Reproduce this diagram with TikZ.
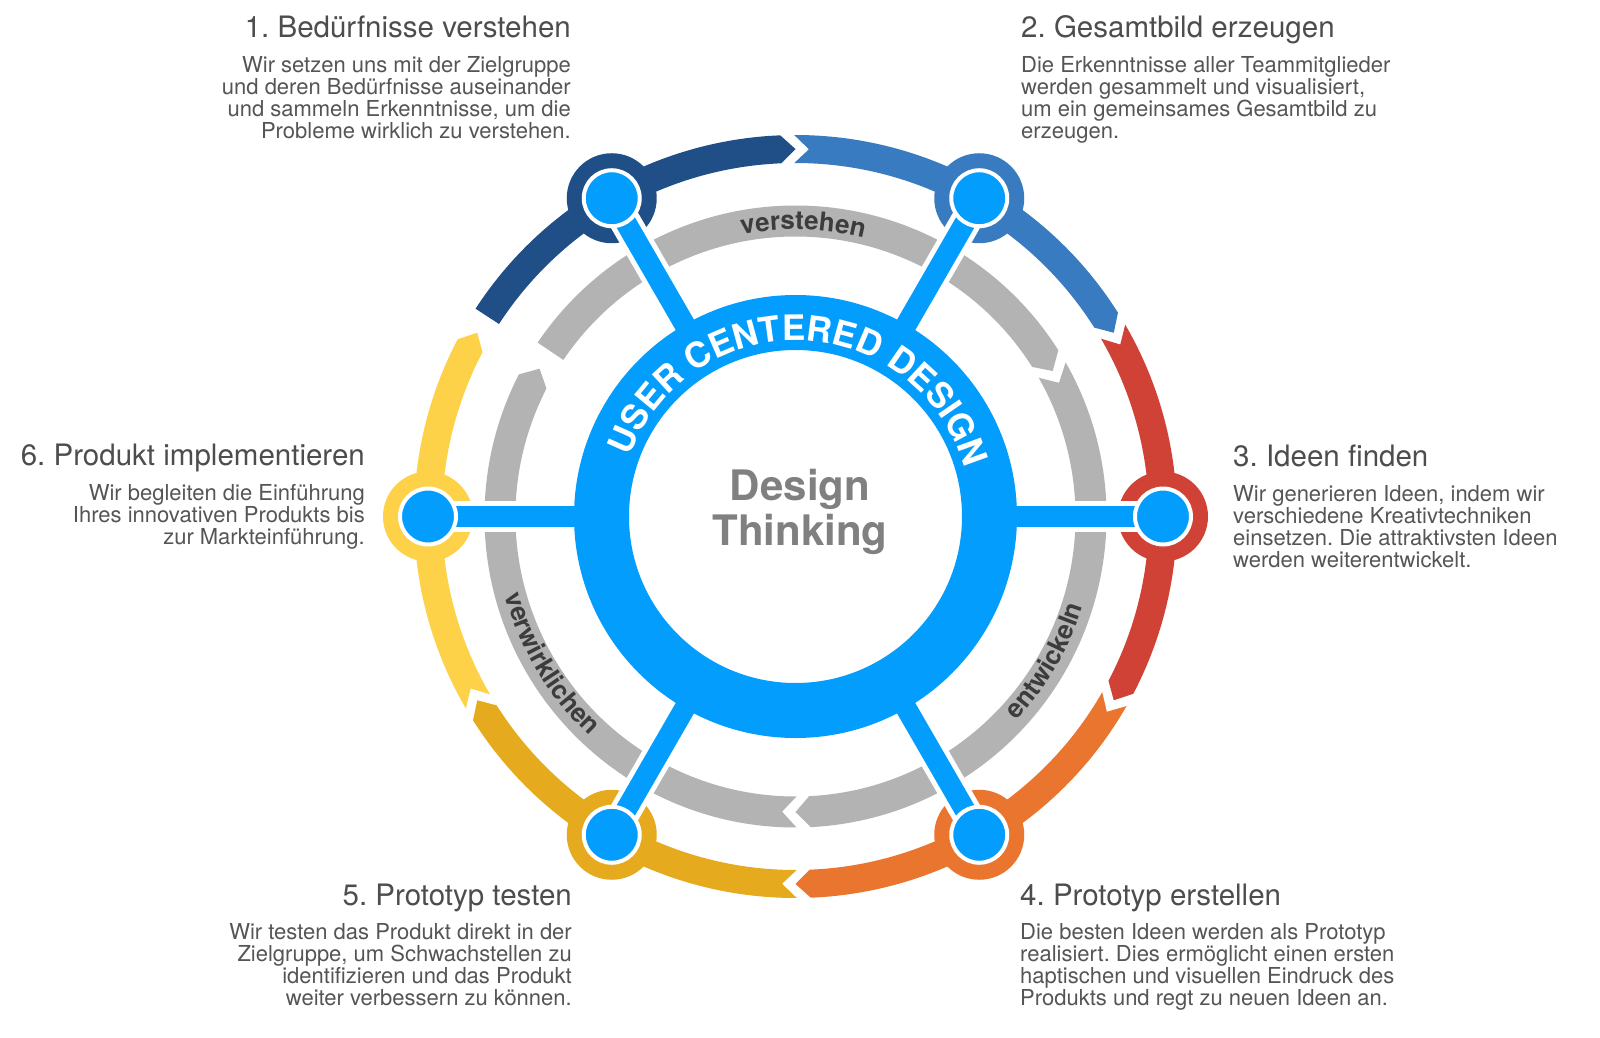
\documentclass[tikz,border=0pt]{standalone}
\usepackage{fontspec}
\setmainfont{TeX Gyre Heros}
\usetikzlibrary{decorations.text}
\frenchspacing
\definecolor{cA}{RGB}{31,79,134}
\definecolor{cB}{RGB}{57,123,192}
\definecolor{cC}{RGB}{207,66,53}
\definecolor{cD}{RGB}{234,117,46}
\definecolor{cE}{RGB}{230,170,30}
\definecolor{cF}{RGB}{253,210,72}
\definecolor{arcgray}{RGB}{179,179,179}
\definecolor{lblue}{RGB}{3,157,253}
\definecolor{headc}{RGB}{77,77,77}
\definecolor{bodyc}{RGB}{85,85,85}
\definecolor{lblc}{RGB}{60,60,60}
\definecolor{dtc}{RGB}{128,128,128}
\pgfdeclarelayer{front}
\pgfsetlayers{main,front}
\newcommand\linesR[1]{\vtop{\baselineskip=22pt\lineskiplimit=-100pt\lineskip=0pt\halign{\hfil##\cr#1}}}
\newcommand\linesL[1]{\vtop{\baselineskip=22pt\lineskiplimit=-100pt\lineskip=0pt\halign{##\hfil\cr#1}}}
\newcommand\linesC[1]{\vtop{\baselineskip=45pt\lineskiplimit=-100pt\lineskip=0pt\halign{\hfil##\hfil\cr#1}}}
% notch start, tip end: color, A, B, R, w, delta, gamma
\newcommand\arcNT[7]{%
  \pgfmathsetmacro\segRo{#4+#5}%
  \pgfmathsetmacro\segRi{#4-#5}%
  \pgfmathsetmacro\segSa{#2+#6-#7}%
  \pgfmathsetmacro\segSv{#2-#7}%
  \pgfmathsetmacro\segEc{#3+#6}%
  \fill[#1] (\segSa:\segRo) arc[start angle=\segSa, end angle=\segEc, radius=\segRo]
    -- (#3:#4) -- (\segEc:\segRi) arc[start angle=\segEc, end angle=\segSa, radius=\segRi]
    -- (\segSv:#4) -- cycle;}
% straight start, tip end: color, A, B, R, w, delta
\newcommand\arcST[6]{%
  \pgfmathsetmacro\segRo{#4+#5}%
  \pgfmathsetmacro\segRi{#4-#5}%
  \pgfmathsetmacro\segEc{#3+#6}%
  \fill[#1] (#2:\segRo) arc[start angle=#2, end angle=\segEc, radius=\segRo]
    -- (#3:#4) -- (\segEc:\segRi) arc[start angle=\segEc, end angle=#2, radius=\segRi]
    -- cycle;}
\tikzset{
  stepring/.style={circle, minimum size=90pt, inner sep=0pt, outer sep=0pt},
  stepdot/.style={circle, fill=lblue, draw=white, line width=4pt, minimum size=56pt, inner sep=0pt},
  corering/.style={circle, draw=lblue, fill=white, line width=55pt, minimum size=388pt, inner sep=0pt},
  spokewhite/.style={white, line width=31pt},
  spokeblue/.style={lblue, line width=21pt},
  headtxt/.style={inner sep=0pt, text=headc, font=\fontsize{29.5}{30}\selectfont},
  bodytxt/.style={inner sep=0pt, text=bodyc, font=\fontsize{22}{22}\selectfont},
  arclabel/.style={decorate, decoration={text along path, text color=lblc, text align=center,
     text={|\bfseries\fontsize{26}{26}\selectfont|#1}}},
}
\begin{document}
\begin{tikzpicture}[x=1pt,y=1pt]
\useasboundingbox (-795.5,-520.5) rectangle (804.5,516.5);
\fill[white] (-795.5,-520.5) rectangle (804.5,516.5);
\begin{pgfonlayer}{front}
\node[corering] (core) at (0,0) {};
\end{pgfonlayer}
% inner gray arcs
\arcST{arcgray}{146}{29.5}{295.5}{15.5}{2.8}
\arcNT{arcgray}{29.5}{-90}{295.5}{15.5}{2.8}{2.6}
\arcNT{arcgray}{-90}{-210}{295.5}{15.5}{2.8}{2.6}
\path[arclabel=verstehen] (128.5:287) arc[start angle=128.5, end angle=48.5, radius=287];
\path[arclabel=entwickeln] (-66:301) arc[start angle=-66, end angle=6, radius=301];
\path[arclabel=verwirklichen] (171:301) arc[start angle=171, end angle=251, radius=301];
% outer coloured arcs
\arcST{cA}{147}{90}{367.5}{14}{2.3}
\arcNT{cB}{90}{30}{367.5}{14}{2.3}{2.1}
\arcNT{cC}{30}{-30}{367.5}{14}{2.3}{2.1}
\arcNT{cD}{-30}{-90}{367.5}{14}{2.3}{2.1}
\arcNT{cE}{-90}{-150}{367.5}{14}{2.3}{2.1}
\arcNT{cF}{-150}{-210}{367.5}{14}{2.3}{2.1}
% step rings
\node[stepring, fill=cA] (s1) at (120:367.5) {};
\node[stepring, fill=cB] (s2) at (60:367.5) {};
\node[stepring, fill=cC] (s3) at (0:367.5) {};
\node[stepring, fill=cD] (s4) at (-60:367.5) {};
\node[stepring, fill=cE] (s5) at (-120:367.5) {};
\node[stepring, fill=cF] (s6) at (180:367.5) {};
% spokes
\foreach \i in {1,...,6} {\draw[spokewhite] (s\i.center) -- (core.center);}
\foreach \i in {1,...,6} {\draw[spokeblue] (s\i.center) -- (core.center);}
\begin{pgfonlayer}{front}
\foreach \i in {1,...,6} {\node[stepdot] (d\i) at (s\i.center) {};}
\node[anchor=base, inner sep=0pt, text=dtc, font=\bfseries\fontsize{42}{42}\selectfont] (dt) at (4.5,16.5) {\linesC{Design\cr Thinking\cr}};
\path[decorate, decoration={text along path, text color=white, text align=center,
  text={|\bfseries\fontsize{35}{35}\selectfont|USER CENTERED DESIGN}}]
  (172:176) arc[start angle=172, end angle=4, radius=176];
\end{pgfonlayer}
% text blocks
\node[headtxt, anchor=base east] (h1) at (-224.5,478.5) {1. Bedürfnisse verstehen};
\node[bodytxt, anchor=base east] (b1) at (-224.5,443.5) {\linesR{Wir setzen uns mit der Zielgruppe\cr und deren Bedürfnisse auseinander\cr und sammeln Erkenntnisse, um die\cr Probleme wirklich zu verstehen.\cr}};
\node[headtxt, anchor=base west] (h2) at (225.5,478.5) {2. Gesamtbild erzeugen};
\node[bodytxt, anchor=base west] (b2) at (225.5,443.5) {\linesL{Die Erkenntnisse aller Teammitglieder\cr werden gesammelt und visualisiert,\cr um ein gemeinsames Gesamtbild zu\cr erzeugen.\cr}};
\node[headtxt, anchor=base west] (h3) at (437.5,50.5) {3. Ideen finden};
\node[bodytxt, anchor=base west] (b3) at (437.5,15.5) {\linesL{Wir generieren Ideen, indem wir\cr verschiedene Kreativtechniken\cr einsetzen. Die attraktivsten Ideen\cr werden weiterentwickelt.\cr}};
\node[headtxt, anchor=base west] (h4) at (224.5,-388.5) {4. Prototyp erstellen};
\node[bodytxt, anchor=base west] (b4) at (224.5,-422.5) {\linesL{Die besten Ideen werden als Prototyp\cr realisiert. Dies ermöglicht einen ersten\cr haptischen und visuellen Eindruck des\cr Produkts und regt zu neuen Ideen an.\cr}};
\node[headtxt, anchor=base east] (h5) at (-223.5,-388.5) {5. Prototyp testen};
\node[bodytxt, anchor=base east] (b5) at (-223.5,-422.5) {\linesR{Wir testen das Produkt direkt in der\cr Zielgruppe, um Schwachstellen zu\cr identifizieren und das Produkt\cr weiter verbessern zu können.\cr}};
\node[headtxt, anchor=base east] (h6) at (-430.5,51.5) {6. Produkt implementieren};
\node[bodytxt, anchor=base east] (b6) at (-430.5,16.5) {\linesR{Wir begleiten die Einführung\cr Ihres innovativen Produkts bis\cr zur Markteinführung.\cr}};
\end{tikzpicture}
\end{document}
